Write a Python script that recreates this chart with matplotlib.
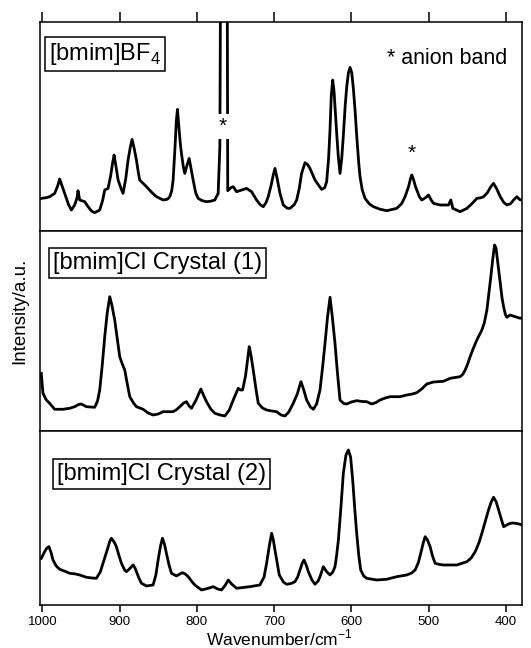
import matplotlib
matplotlib.use("Agg")
import matplotlib.pyplot as plt

plt.rcParams['font.family'] = ['Liberation Sans', 'DejaVu Sans']

# [bmim]BF4 spectrum (wavenumber / cm-1, intensity a.u.)
wn_bf4 = [1001.3, 995, 990.5, 984, 980, 977.5, 974.5, 971, 966, 962.4,
          958.1, 955, 953.8, 951.6, 945.1, 940.8, 936, 932.2, 925.7, 922,
          919.2, 914.9, 911.5, 909, 907.1, 905, 901.9, 898, 895.5, 892,
          889, 886, 883.8, 881, 878.2, 875.5, 873.9, 869, 865.2, 858,
          852.3, 843.6, 838, 835, 832.5, 830.7, 828.5, 826.5, 825.1, 823.3,
          821.5, 819.9, 817.5, 815.6, 812.5, 809.9, 807.5, 804.8, 801.5, 798.3,
          793, 787.5, 782, 776.7, 772.4, 770.2, 769.5, 765, 760.6, 760,
          756, 752.9, 748.6, 742.1, 735.6, 729.2, 722.7, 718, 714, 710.5,
          707.6, 704, 701, 698.9, 696, 692.4, 688.1, 683, 679.5, 674,
          670.8, 667.5, 664.4, 660, 656.5, 653.6, 650, 647.1, 642, 638.4,
          634.5, 632, 629.5, 627.7, 626, 624.2, 622.5, 620.5, 619, 617,
          614.7, 612.5, 610.4, 608, 606, 603.8, 601.7, 599.5, 597.4, 595,
          593.1, 590.5, 588.8, 586, 582.3, 577, 571.5, 563, 554.2, 541.3,
          535, 530.5, 526, 523.5, 521.8, 519.5, 517, 515.3, 512, 508.9,
          504, 500.2, 497, 493.7, 485.1, 474.3, 471.3, 468.7, 459.2, 450.5,
          444, 437.6, 432, 428.9, 424, 419.5, 416, 412, 407.3, 403,
          398.7, 394, 390.1, 385.7, 382, 379.3]
int_bf4 = [32.3, 33, 34, 37.3, 45, 51.7, 45, 37.3, 26, 20.7,
           25.7, 33, 40, 30.7, 29, 24, 19.5, 18, 20.7, 30,
           40.7, 42.3, 55, 68, 75.7, 66, 50.7, 42, 37.3, 52,
           70.7, 84, 91.3, 82, 70.7, 57, 50.7, 47, 44, 38,
           34, 30.7, 31.5, 34, 40, 50.7, 80, 110, 121.3, 105,
           88, 77.3, 64, 57.3, 66, 72.3, 62, 50.7, 38, 32.3,
           30, 29, 29.5, 30.7, 37.3, 84, 230, 350, 230, 40,
           43, 44, 39, 40.7, 42.3, 39, 30.7, 26, 24, 28,
           34, 45, 56, 62.3, 52, 37.3, 25.7, 22.5, 22.3, 26,
           30.7, 42, 57.3, 68, 66, 62.3, 56, 50.7, 45, 41.3,
           43, 49, 72, 100, 135, 150.7, 140, 115, 97.3, 75,
           57.3, 72, 95, 125, 144, 158, 163.3, 158, 142, 118,
           95, 68, 54, 41, 32.3, 27, 24, 21.5, 20, 22.3,
           27, 34, 44, 52, 55.7, 51, 44, 40.7, 34, 30.7,
           33, 35.7, 31, 27.3, 25.7, 25.7, 30.7, 22.3, 19, 22.3,
           27, 32.3, 33, 34, 38, 44, 47.3, 42, 34, 28.5,
           25.7, 27, 30.7, 34, 31, 30.7]

# [bmim]Cl Crystal (1)
wn_c1 = [1001.3, 1000, 999.1, 994.8, 990.5, 984, 973.2, 964.6, 958.1, 953,
         949.5, 943, 932.2, 928.5, 925.7, 922.5, 919.2, 916, 912.7, 910,
         906.3, 903, 899.8, 896.5, 893.3, 890, 886.8, 882, 878.2, 869.5,
         863, 856.6, 850, 843.6, 830.7, 826, 822, 817, 813.4, 810,
         806.9, 801, 797, 794.8, 791.5, 787.5, 782, 776.7, 770, 763.7,
         758, 752.9, 749, 746.4, 743.5, 740.8, 737, 734.5, 732.2, 730,
         727, 723.5, 720.5, 715, 709.7, 703, 696.8, 691, 686, 681,
         675.2, 670, 667, 665.2, 662, 657.9, 653, 649.2, 645, 640.6,
         637.5, 634.1, 631, 627.6, 624.5, 621.2, 618, 614.7, 610, 606,
         600, 593.1, 586, 580.2, 573.7, 568, 562.9, 556, 549.9, 537,
         528.3, 521, 515.3, 509, 502.4, 493.7, 480.8, 472.1, 466, 459.2,
         455.5, 452.7, 449.5, 446.3, 442, 437.6, 431.1, 428, 424.6, 422,
         419.5, 417, 414.7, 412.8, 410.8, 409, 407.3, 405, 403, 400.5,
         398.7, 394.4, 391, 387.9, 383, 379.3]
int_c1 = [57.7, 45, 37.7, 31, 27.7, 21.7, 21.7, 22.7, 24.3, 26.5,
          27, 24.3, 23.7, 30, 41, 65, 94.3, 118, 134.3, 126,
          111, 92, 74.3, 67, 61, 47, 34.3, 28, 24.3, 21.7,
          18, 16, 17, 19.3, 19.3, 21.5, 24.3, 28, 29.3, 25,
          22.7, 31, 38, 42, 36, 29.3, 22, 17.7, 16, 15,
          21, 31, 38, 42.7, 41, 41, 55, 70, 84.3, 76,
          61, 42, 27.7, 23, 21, 20, 19.3, 16, 15, 19,
          27.7, 37, 45, 49.3, 42, 31, 24, 21.7, 27, 41,
          62, 87.7, 113, 133.7, 113, 87.7, 58, 31, 27.5, 27,
          29, 30.3, 29.5, 29.3, 27, 28.5, 31, 33, 34.3, 34.3,
          36, 37, 38.3, 42, 47, 49, 49.7, 52.7, 53.5, 54.3,
          57, 61, 67, 74.3, 83, 91, 101, 108, 121, 138,
          154.3, 172, 186, 183, 170, 158, 147.7, 133, 124.3, 116,
          113.7, 116, 115, 114.3, 113, 112.7]

# [bmim]Cl Crystal (2)
wn_c2 = [1001.3, 997, 994, 991.4, 988.5, 986.2, 982, 977.5, 970, 964.6,
         957, 951.6, 943, 936, 930, 925, 921.4, 916, 912.5, 910.6,
         907, 904.1, 901, 897.6, 893.5, 891.1, 886, 882.5, 880, 878.2,
         875, 871.7, 865.2, 856.6, 853, 850.1, 847, 844.5, 842, 839.3,
         836, 832.8, 826.3, 822, 818.6, 815, 811.2, 806, 802.6, 794,
         786, 778.8, 773, 768, 763, 759.4, 755, 748.6, 740, 731.3,
         718.4, 713, 709.7, 706, 703.2, 701, 698.9, 696, 693.3, 688,
         683.8, 678, 673, 669.5, 666.5, 663.5, 661.3, 658.5, 655.7, 651,
         647.1, 643, 640.6, 636.3, 632, 627.7, 624, 621.2, 619, 616.8,
         613.5, 610.4, 607, 603.9, 601, 598.3, 595.5, 593.1, 590.5, 587.9,
         584, 580.2, 567.2, 554.2, 541.3, 528.3, 522, 517.5, 513.5, 510.2,
         507, 504.5, 501.5, 498.1, 495, 491.6, 486, 480.8, 463.5, 450.5,
         445, 439.7, 435, 431.1, 427, 422.5, 419, 416, 412.5, 409.5,
         406, 403, 400, 396.5, 392, 387.9, 383, 379.3]
int_c2 = [46.7, 53.3, 57, 58.3, 52, 45, 39, 35.7, 33.5, 31.7,
          31, 30, 27.7, 27, 26.7, 33, 41.7, 55, 64, 66.7,
          63, 58.3, 50, 41.7, 35, 33.3, 37, 40, 37, 33.3,
          27, 21.7, 19, 20, 30, 45, 59, 66.7, 61, 51.7,
          40, 31.7, 29, 31, 32.3, 31, 28.3, 23, 20, 15,
          16.5, 18.3, 16, 15, 20, 25, 21, 16.7, 17.5, 18.3,
          20, 28, 41.7, 60, 71.7, 65, 55, 42, 30, 23,
          20.7, 21.5, 23.3, 28, 35, 42, 45, 40, 33.3, 25,
          20.7, 24, 28.3, 38.3, 33.3, 30, 33, 38.3, 50, 65,
          98, 131.7, 150, 155, 148, 125, 95, 71.7, 50, 35,
          29, 26.7, 25, 25.7, 28.3, 30, 32, 35, 42, 51.7,
          62, 68.3, 65, 58.3, 49, 41.7, 40.5, 40, 40, 43.3,
          47, 53.3, 62, 71.7, 83, 95, 103, 107.7, 103, 95,
          86, 78.3, 79.5, 81, 82, 81.7, 81, 80]

labels = ["[bmim]BF$_\\mathregular{4}$", "[bmim]Cl Crystal (1)", "[bmim]Cl Crystal (2)"]
xticks = [1000, 900, 800, 700, 600, 500, 400]

fig = plt.figure(figsize=(5.31, 6.48), dpi=100)
left, width = 0.0753, 0.908
ax1 = fig.add_axes([left, 0.644, width, 0.322])
ax2 = fig.add_axes([left, 0.3349, width, 0.3091])
ax3 = fig.add_axes([left, 0.0664, width, 0.2685])

spectra = [(wn_bf4, int_bf4, 208.7), (wn_c1, int_c1, 200.3), (wn_c2, int_c2, 174.0)]
label_pos = [(0.018, 0.849), (0.027, 0.837), (0.035, 0.751)]

for ax, (wn, inten, top), lab, (tx, ty) in zip([ax1, ax2, ax3], spectra, labels, label_pos):
    ax.plot(wn, inten, color='black', lw=2.0, solid_joinstyle='round')
    ax.set_xlim(1003, 379)
    ax.set_ylim(0, top)
    ax.set_yticks([])
    for s in ax.spines.values():
        s.set_linewidth(1.1)
    ax.text(tx, ty, lab, transform=ax.transAxes, fontsize=17, va='center', ha='left',
            bbox=dict(boxstyle='square,pad=0.17', fc='white', ec='black', lw=1.1))

ax1.set_xticks(xticks)
ax1.tick_params(axis='x', top=True, bottom=False, labeltop=False, labelbottom=False,
                direction='out', length=7, width=1.1)
ax2.set_xticks([])
ax3.set_xticks(xticks)
ax3.set_xticklabels([str(t) for t in xticks])
ax3.tick_params(axis='x', direction='out', length=5, width=1.1, pad=3, labelsize=9.5)

ax1.text(0.72, 0.8275, "* anion band", transform=ax1.transAxes, fontsize=15.5,
         va='center', ha='left')
ax1.text(766.5, 104, "*", fontsize=15, ha='center', va='center', zorder=5,
         bbox=dict(boxstyle='square,pad=0.15', fc='white', ec='none'))
ax1.text(521.8, 77, "*", fontsize=15, ha='center', va='center')

fig.text(0.527, 0.004, "Wavenumber/cm$^{\\mathregular{-1}}$", fontsize=12.5,
         ha='center', va='baseline')
fig.text(0.037, 0.52, "Intensity/a.u.", fontsize=13.5, rotation=90,
         ha='center', va='center')

fig.savefig("out.png", dpi=100)
